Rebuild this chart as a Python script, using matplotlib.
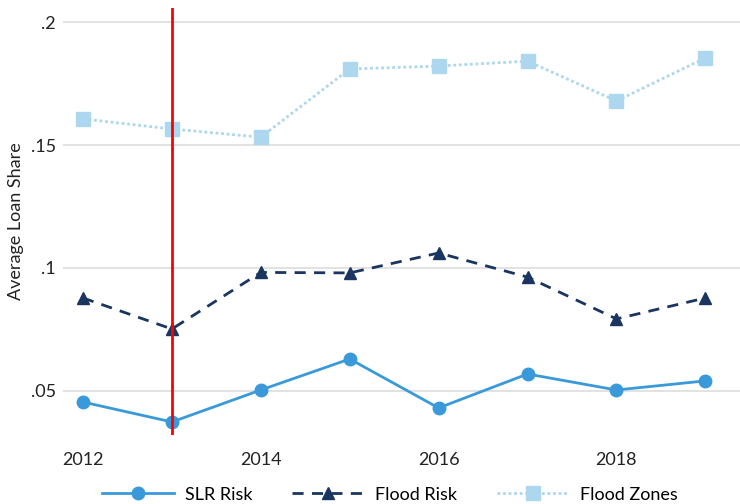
import matplotlib
matplotlib.use("Agg")
import matplotlib.pyplot as plt

# Data
years = [2012, 2013, 2014, 2015, 2016, 2017, 2018, 2019]
slr_risk = [0.0455, 0.0374, 0.0504, 0.0630, 0.0431, 0.0569, 0.0504, 0.0541]
flood_risk = [0.0878, 0.0752, 0.0982, 0.0980, 0.1061, 0.0963, 0.0793, 0.0878]
flood_zones = [0.1606, 0.1565, 0.1532, 0.1809, 0.1821, 0.1841, 0.1679, 0.1854]
event_year = 2013

x_ticks = [2012, 2014, 2016, 2018]
y_ticks = [0.05, 0.10, 0.15, 0.20]
y_tick_labels = [".05", ".1", ".15", ".2"]

FONT_SIZE = 13
TEXT_COLOR = "#222222"

plt.rcParams["font.family"] = ["Lato", "DejaVu Sans"]
plt.rcParams["font.size"] = FONT_SIZE

fig = plt.figure(figsize=(7.4, 5.04), dpi=100)
ax = fig.add_axes([63 / 740, 1 - 435 / 504, 677 / 740, 427 / 504])

ax.plot(years, slr_risk, color="#3a9ad9", lw=2, marker="o", ms=9, label="SLR Risk")
ax.plot(years, flood_risk, color="#1a3560", lw=2, ls=(0, (4, 3)), marker="^", ms=9,
        label="Flood Risk")
ax.plot(years, flood_zones, color="#acd7ee", lw=2, ls=(0, (1, 1)), marker="s", ms=10,
        label="Flood Zones")
ax.axvline(event_year, color="#ff0000", lw=2, zorder=5)

ax.set_xlim(2011.775, 2019.39)
ax.set_ylim(0.0321, 0.2057)
ax.set_xticks(x_ticks)
ax.set_yticks(y_ticks)
ax.set_yticklabels(y_tick_labels)
ax.tick_params(length=0, labelsize=FONT_SIZE, colors=TEXT_COLOR)
ax.tick_params(axis="y", pad=5)
ax.tick_params(axis="x", pad=12)
ax.grid(axis="y", color="#dddddd", lw=1.2)
ax.set_axisbelow(True)
for s in ax.spines.values():
    s.set_visible(False)
ax.set_ylabel("Average Loan Share", fontsize=FONT_SIZE, color=TEXT_COLOR)
ax.yaxis.set_label_coords(-0.058, 0.5)

ax.legend(loc="center", bbox_to_anchor=(0.483, -0.14), ncol=3, frameon=False,
          handlelength=4.0, columnspacing=2.2, fontsize=FONT_SIZE, handletextpad=0.6)

fig.savefig("out.png", dpi=100)
